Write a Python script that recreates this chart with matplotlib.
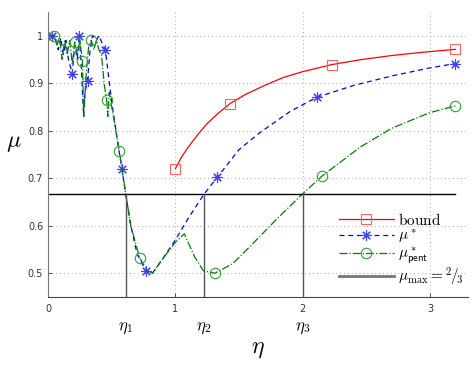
import matplotlib
matplotlib.use("Agg")
import matplotlib.pyplot as plt
from matplotlib.lines import Line2D

plt.rcParams['mathtext.fontset'] = 'cm'
plt.rcParams['font.family'] = ['DejaVu Sans']

# bound curve
bound_x = [1.0, 1.05, 1.1, 1.18, 1.25, 1.33, 1.43, 1.55, 1.7, 1.85, 2.0, 2.23, 2.45, 2.7, 2.95, 3.2]
bound_y = [0.72, 0.745, 0.765, 0.793, 0.815, 0.835, 0.857, 0.876, 0.895, 0.912, 0.924, 0.939, 0.949, 0.958, 0.965, 0.971]
bound_mark = [1.0, 1.43, 2.23, 3.2]

# mu* curve
mu_x = [0.0, 0.03, 0.06, 0.08, 0.10, 0.12, 0.14, 0.16, 0.19, 0.21, 0.23, 0.245, 0.26, 0.28, 0.29,
        0.31, 0.33, 0.35, 0.38, 0.40, 0.43, 0.45, 0.50, 0.55, 0.58, 0.61, 0.65, 0.70, 0.77, 0.82,
        0.9, 1.0, 1.1, 1.227, 1.33, 1.5, 1.66, 1.9, 2.11, 2.4, 2.7, 3.0, 3.2]
mu_y = [1.0, 1.0, 0.99, 0.97, 0.995, 0.96, 0.99, 0.95, 0.92, 0.98, 0.95, 1.0, 0.94, 0.83, 0.88,
        0.905, 0.97, 1.0, 0.99, 1.0, 0.98, 0.97, 0.86, 0.77, 0.72, 0.667, 0.6, 0.54, 0.505, 0.50,
        0.53, 0.57, 0.615, 0.667, 0.702, 0.76, 0.795, 0.84, 0.87, 0.895, 0.915, 0.932, 0.941]
mu_mark = [0.03, 0.19, 0.245, 0.31, 0.45, 0.58, 0.77, 1.33, 2.11, 3.2]

# mu*_pent curve
pent_x = [0.0, 0.05, 0.07, 0.09, 0.11, 0.13, 0.15, 0.17, 0.19, 0.21, 0.23, 0.25, 0.27, 0.28, 0.30,
          0.32, 0.34, 0.36, 0.38, 0.40, 0.42, 0.44, 0.46, 0.47, 0.48, 0.52, 0.56, 0.61, 0.65, 0.72,
          0.78, 0.82, 0.9, 1.0, 1.07, 1.15, 1.22, 1.31, 1.45, 1.6, 1.8, 2.0, 2.15, 2.45, 2.7, 3.0, 3.2]
pent_y = [1.0, 1.0, 0.98, 0.995, 0.95, 0.99, 0.96, 0.99, 0.94, 0.986, 0.96, 0.99, 0.946, 0.83, 0.92,
          0.98, 0.99, 0.97, 0.99, 0.97, 0.96, 0.90, 0.864, 0.83, 0.88, 0.82, 0.757, 0.667, 0.6, 0.532,
          0.505, 0.50, 0.53, 0.565, 0.583, 0.535, 0.505, 0.50, 0.52, 0.56, 0.615, 0.667, 0.704, 0.765,
          0.805, 0.838, 0.852]
pent_mark = [0.05, 0.21, 0.27, 0.34, 0.46, 0.56, 0.72, 1.31, 2.15, 3.2]

mu_max = 2 / 3
etas = [0.61, 1.227, 2.0]
eta_labels = [r'$\eta_1$', r'$\eta_2$', r'$\eta_3$']

fig = plt.figure(figsize=(4.71, 3.68), dpi=100)
ax = fig.add_axes([0.102, 0.193, 0.892, 0.775])

ax.plot(bound_x, bound_y, '-', color='#ff0000', lw=0.9, marker='s', ms=6.5, mfc='none',
        mec='#ff6060', mew=0.8, markevery=[bound_x.index(v) for v in bound_mark], label=r'$\mathrm{bound}$')
ax.plot(mu_x, mu_y, '--', color='#0000ff', lw=0.9, marker=(8, 2, 0), ms=7.5, mec='#4040ff', mew=0.8,
        markevery=[mu_x.index(v) for v in mu_mark], label=r'$\mu^*$', dashes=(4, 3))
ax.plot(pent_x, pent_y, '-.', color='#008000', lw=0.9, marker='o', ms=7.5, mfc='none', mec='#30a030',
        mew=0.8, markevery=[pent_x.index(v) for v in pent_mark], label=r'$\mu^*_{\mathsf{pent}}$')

ax.plot([0, 3.2], [mu_max, mu_max], '-', color='black', lw=1.0)
for e in etas:
    ax.plot([e, e], [0.45, mu_max], '-', color='#555555', lw=1.0)
for e, lab in zip(etas, eta_labels):
    ax.text(e, -0.105, lab, transform=ax.get_xaxis_transform(), ha='center', va='center', fontsize=12)

ax.set_xlim(0, 3.3)
ax.set_ylim(0.45, 1.05)
ax.set_xticks([0, 1, 2, 3])
ax.set_xticklabels(['0', '1', '2', '3'])
ax.set_yticks([0.5, 0.6, 0.7, 0.8, 0.9, 1.0])
ax.set_yticklabels(['0.5', '0.6', '0.7', '0.8', '0.9', '1'])
ax.tick_params(direction='in', labelsize=7, length=3, width=0.6, colors='#333333')
ax.tick_params(axis='x', pad=5)
ax.grid(True, linestyle=(0, (1, 3)), color='#aaaaaa', lw=0.7)
ax.spines['top'].set_visible(False)
ax.spines['right'].set_visible(False)
ax.spines['left'].set_color('#777777')
ax.spines['bottom'].set_color('#444444')

ax.set_xlabel(r'$\eta$', fontsize=17, labelpad=16)
ax.set_ylabel(r'$\mu$', fontsize=17, rotation=0, labelpad=10)

handles = ax.get_lines()[:3] + [Line2D([], [], color='#777777', lw=2)]
labels = [r'$\mathrm{bound}$', r'$\mu^*$', r'$\mu^*_{\mathsf{pent}}$', r'$\mu_{\max}={}^2\!/\!_3$']
ax.legend(handles, labels, loc='upper left', bbox_to_anchor=(331 / 471, 1 - 204 / 368),
          bbox_transform=fig.transFigure, frameon=False, fontsize=11, handlelength=3.6,
          handletextpad=0.3, labelspacing=0.0, borderpad=0)

fig.savefig('out.png', dpi=100)
